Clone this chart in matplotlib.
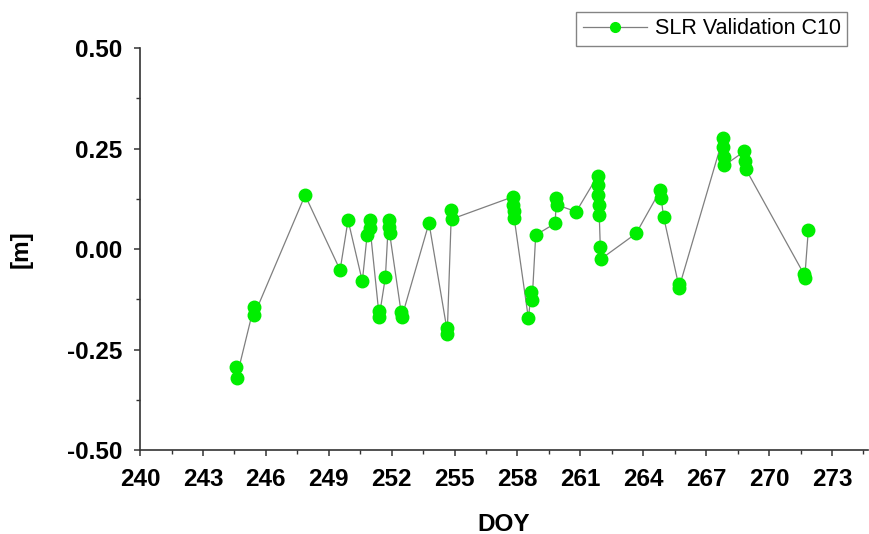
import matplotlib
matplotlib.use("Agg")
import matplotlib.pyplot as plt
from matplotlib.ticker import MultipleLocator

plt.rcParams['font.family'] = ['Liberation Sans', 'DejaVu Sans']

# SLR validation residuals
doy = [244.58, 244.60, 245.42, 245.45, 247.87, 249.54, 249.92, 250.60,
       250.83, 250.95, 250.97, 251.38, 251.40, 251.70, 251.85, 251.87,
       251.90, 252.45, 252.48, 253.78, 254.62, 254.65, 254.85, 254.88,
       257.78, 257.80, 257.82, 257.84, 258.52, 258.66, 258.70, 258.87,
       259.80, 259.85, 259.88, 260.80, 261.82, 261.84, 261.86, 261.88,
       261.90, 261.95, 261.97, 263.66, 264.82, 264.85, 264.97, 265.68,
       265.70, 267.80, 267.82, 267.84, 267.86, 268.82, 268.85, 268.88,
       271.66, 271.70, 271.87]
offset = [-0.293, -0.320, -0.145, -0.163, 0.134, -0.052, 0.072, -0.080,
          0.035, 0.072, 0.052, -0.155, -0.170, -0.070, 0.072, 0.055,
          0.040, -0.157, -0.170, 0.065, -0.195, -0.210, 0.097, 0.075,
          0.130, 0.110, 0.095, 0.078, -0.172, -0.106, -0.127, 0.035,
          0.064, 0.127, 0.110, 0.093, 0.182, 0.160, 0.135, 0.110,
          0.085, 0.006, -0.025, 0.039, 0.147, 0.127, 0.080, -0.088,
          -0.097, 0.276, 0.255, 0.228, 0.208, 0.243, 0.220, 0.200,
          -0.062, -0.072, 0.047]
series_label = "SLR Validation C10"

fig = plt.figure(figsize=(8.7, 5.34), dpi=100)
ax = fig.add_axes([0.161, 0.157, 0.837, 0.753])

ax.plot(doy, offset, color='#7f7f7f', linewidth=0.9,
        marker='o', markersize=9, markerfacecolor='#00ee00',
        markeredgecolor='#00ee00', label=series_label, zorder=3)

ax.set_xlim(240, 274.73)
ax.set_ylim(-0.5, 0.5)
ax.xaxis.set_major_locator(MultipleLocator(3))
ax.xaxis.set_minor_locator(MultipleLocator(1.5))
ax.yaxis.set_major_locator(MultipleLocator(0.25))
ax.yaxis.set_minor_locator(MultipleLocator(0.125))
ax.yaxis.set_major_formatter(plt.FormatStrFormatter('%.2f'))

for side in ['top', 'right']:
    ax.spines[side].set_visible(False)
for side in ['left', 'bottom']:
    ax.spines[side].set_color('#333333')
    ax.spines[side].set_linewidth(1.2)

ax.tick_params(which='major', direction='out', length=4.5, width=1.1,
               color='#333333', labelsize=17.5)
ax.tick_params(axis='x', which='major', pad=8)
ax.tick_params(axis='y', which='major', pad=8)
ax.tick_params(which='minor', direction='out', length=3, width=1.0,
               color='#333333')
for lbl in ax.get_xticklabels() + ax.get_yticklabels():
    lbl.set_fontweight('bold')

ax.set_xlabel("DOY", fontsize=17.5, fontweight='bold', labelpad=16)
ax.set_ylabel("[m]", fontsize=17.5, fontweight='bold', labelpad=25)

leg = ax.legend(loc='upper right', bbox_to_anchor=(0.971, 1.09),
                fontsize=15.5, frameon=True, fancybox=False,
                handlelength=3.0, borderpad=0.3, handletextpad=0.35,
                borderaxespad=0)
leg.get_frame().set_edgecolor('#666666')
leg.get_frame().set_linewidth(1.0)
leg.legend_handles[0].set_markersize(7)

fig.savefig("out.png", dpi=100)
